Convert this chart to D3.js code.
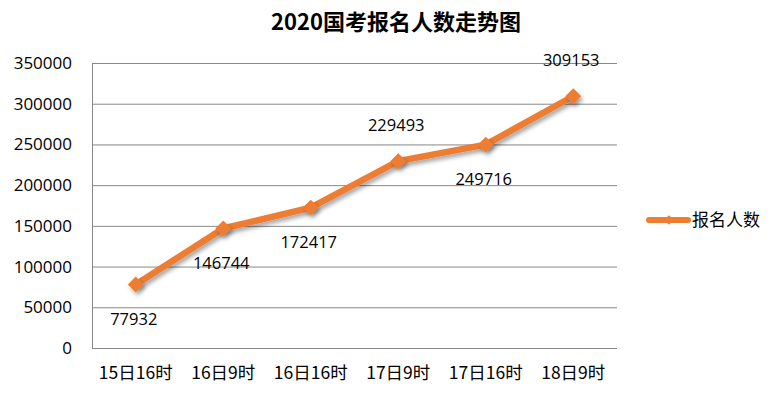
<!DOCTYPE html>
<html><head><meta charset="utf-8">
<script src="https://cdn.jsdelivr.net/npm/d3@7"></script>
<style>
body{margin:0;background:#fff;}
text{font-family:"Open Sans","Noto Sans CJK SC",sans-serif;}
</style></head>
<body>
<svg id="c" width="784" height="401"></svg>
<script>
const categories = ["15日16时","16日9时","16日16时","17日9时","17日16时","18日9时"];
const values = [77932,146744,172417,229493,249716,309153];
const labelAbove = [false,false,false,true,false,true];
const yTicks = [0,50000,100000,150000,200000,250000,300000,350000];
const seriesName = "报名人数";
const title = "2020国考报名人数走势图";

const svg = d3.select("#c");
const m = {l:92,r:617,t:63,b:348};
const x = d3.scaleBand().domain(categories).range([m.l,m.r]);
const y = d3.scaleLinear().domain([0,350000]).range([m.b,m.t]);
const orange = "#ED7D31";

const defs = svg.append("defs");
const f = defs.append("filter").attr("id","sh").attr("x","-50%").attr("y","-50%").attr("width","200%").attr("height","200%");
f.append("feDropShadow").attr("dx",2).attr("dy",3).attr("stdDeviation",2).attr("flood-color","#000").attr("flood-opacity",0.35);

svg.append("text").attr("x",396).attr("y",30).attr("text-anchor","middle")
  .style("font-size","22px").style("font-weight","bold").style("font-family","'Noto Sans CJK SC',sans-serif").text(title);

// gridlines
svg.append("g").selectAll("line").data(yTicks).join("line")
  .attr("x1",m.l).attr("x2",m.r).attr("y1",d=>y(d)+0.5).attr("y2",d=>y(d)+0.5)
  .attr("stroke","#888").attr("stroke-width",1);
svg.append("line").attr("x1",m.l+0.5).attr("x2",m.l+0.5).attr("y1",m.t).attr("y2",m.b).attr("stroke","#888");

// y axis
const ya = d3.axisLeft(y).tickValues(yTicks).tickSize(0).tickPadding(20).tickFormat(d3.format("d"));
const gy = svg.append("g").attr("transform",`translate(${m.l},0)`).call(ya);
gy.select(".domain").remove();
gy.selectAll("text").style("font-size","17px").style("font-family","'Open Sans',sans-serif").attr("fill","#000");

// x axis
const xa = d3.axisBottom(x).tickSize(0).tickPadding(19);
const gx = svg.append("g").attr("transform",`translate(0,${m.b})`).call(xa);
gx.select(".domain").remove();
gx.selectAll("text").style("font-size","17.5px").style("font-family","'Noto Sans CJK SC',sans-serif").attr("fill","#000");

const pts = categories.map((c,i)=>({c,v:values[i],a:labelAbove[i]}));
const line = d3.line().x(d=>x(d.c)+x.bandwidth()/2).y(d=>y(d.v));
svg.append("path").datum(pts).attr("d",line).attr("fill","none").attr("stroke",orange)
  .attr("stroke-width",6.5).attr("stroke-linejoin","round").attr("filter","url(#sh)");
const diamond = d3.symbol().type(d3.symbolDiamond2).size(160);
svg.append("g").selectAll("path").data(pts).join("path")
  .attr("d",diamond).attr("transform",d=>`translate(${x(d.c)+x.bandwidth()/2},${y(d.v)})`)
  .attr("fill",orange).attr("filter","url(#sh)");

svg.append("g").selectAll("text").data(pts).join("text")
  .attr("x",d=>x(d.c)+x.bandwidth()/2-2)
  .attr("y",d=>y(d.v)+(d.a?-30:40))
  .attr("text-anchor","middle").style("font-size","16.5px").style("font-family","'Open Sans',sans-serif")
  .text(d=>d3.format("d")(d.v));

// legend
const lg = svg.append("g");
lg.append("line").attr("x1",649).attr("x2",688).attr("y1",220).attr("y2",220)
  .attr("stroke",orange).attr("stroke-width",6).attr("stroke-linecap","round");
lg.append("path").attr("d",d3.symbol().type(d3.symbolDiamond2).size(60)).attr("transform","translate(669,220)").attr("fill",orange);
lg.append("text").attr("x",692).attr("y",226).style("font-size","17px").style("font-family","'Noto Sans CJK SC',sans-serif").text(seriesName);
</script>
</body></html>
